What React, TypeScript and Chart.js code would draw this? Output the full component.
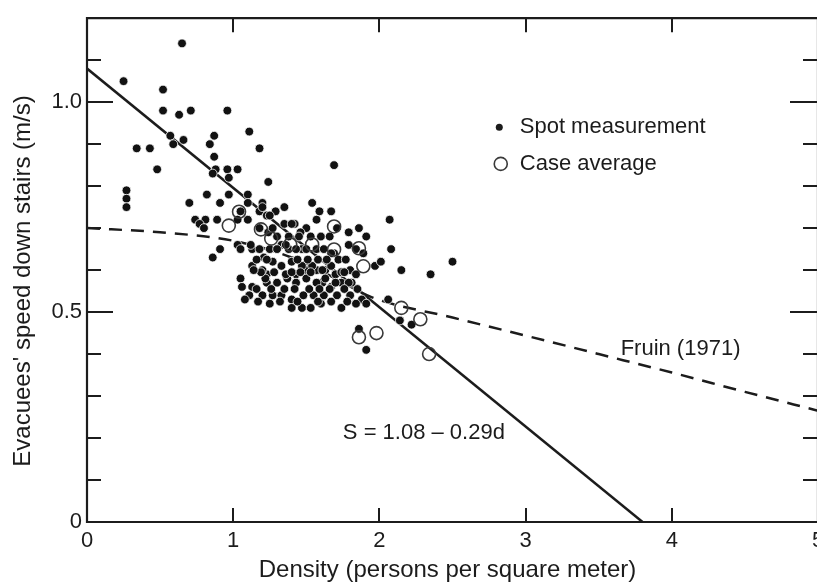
import React, { useEffect, useRef } from "react";
import { Chart, registerables } from "chart.js";

Chart.register(...registerables);

// ---------- data ----------
const xTickValues = [0, 1, 2, 3, 4, 5];
const xInnerTicks = [1, 2, 3, 4];
const yTickValues = [0.1, 0.2, 0.3, 0.4, 0.5, 0.6, 0.7, 0.8, 0.9, 1.0, 1.1];
const yMajorTicks = [0.5, 1.0];
const yLabelValues = [0, 0.5, 1.0];
const yLabelTexts = ["0", "0.5", "1.0"];

const xTitle = "Density (persons per square meter)";
const yTitle = "Evacuees' speed down stairs (m/s)";
const legendSpot = "Spot measurement";
const legendCase = "Case average";
const fruinLabel = "Fruin (1971)";
const fitLabel = "S = 1.08 \u2013 0.29d";

// regression line S = 1.08 - 0.29d
const fitX = [0, 3.8];
const fitY = [1.08, 0];

// Fruin (1971) dashed curve
const fruinX = [0, 0.5, 1.0, 1.4, 1.7, 1.95, 2.5, 3.0, 3.5, 4.0, 4.5, 5.0];
const fruinY = [0.70, 0.69, 0.67, 0.63, 0.58, 0.535, 0.487, 0.444, 0.40, 0.356, 0.31, 0.265];

// case averages (open circles)
const caseX = [0.97, 1.04, 1.19, 1.26, 1.39, 1.54, 1.69, 1.69, 1.86, 1.89, 2.15, 2.28, 1.86, 1.98, 2.34];
const caseY = [0.706, 0.739, 0.697, 0.675, 0.661, 0.661, 0.704, 0.649, 0.652, 0.609, 0.51, 0.483, 0.44, 0.45, 0.40];

// spot measurements (filled dots)
const spotX = [
  0.25, 0.65, 0.52, 0.52, 0.63, 0.71, 0.96, 1.11, 0.57, 0.66, 0.59, 0.84, 0.87, 0.34, 0.43, 1.18, 0.87, 0.48, 0.88, 0.96,
  1.03, 0.86, 0.97, 1.24, 0.27, 0.27, 0.27, 0.82, 0.97, 1.10, 1.69, 0.70, 0.91, 1.10, 1.20, 1.35, 1.54, 1.18, 1.29, 1.59,
  1.67, 1.05, 1.23, 0.74, 0.81, 0.77, 0.80, 0.89, 1.03, 1.10, 1.18, 1.24, 1.35, 1.42, 1.50, 1.57, 1.71, 1.79, 1.86, 1.91,
  2.07, 2.08, 2.15, 2.35, 2.50, 0.91, 0.86, 1.03, 1.05, 1.13, 1.21, 1.33, 1.38, 1.47, 1.57, 1.69, 1.79, 1.84, 1.89, 1.80,
  1.84, 1.97, 2.01, 1.05, 1.06, 1.13, 1.23, 1.23, 1.30, 1.37, 1.43, 1.50, 1.57, 1.63, 1.70, 1.61, 1.67, 1.74, 1.81,
  1.20, 1.25, 1.40, 1.46, 1.27, 1.12, 1.18, 1.25, 1.30, 1.36, 1.43, 1.50, 1.62, 1.67, 1.13, 1.20, 1.27, 1.33, 1.40, 1.47,
  1.54, 1.61, 1.67, 1.22, 1.36, 1.43, 1.50, 1.57, 1.63, 1.70, 1.79, 1.11, 1.20, 1.27, 1.33, 1.40, 1.48, 1.55, 1.62, 1.71,
  1.80, 1.88, 1.25, 1.40, 1.47, 1.53, 1.60, 1.74, 1.84, 1.91, 2.06, 1.86, 1.91, 2.14, 2.22,
  1.30, 1.38, 1.45, 1.53, 1.60, 1.66, 1.16, 1.23, 1.44, 1.51, 1.58, 1.64, 1.72, 1.77, 1.16, 1.26, 1.35, 1.42, 1.52, 1.59,
  1.66, 1.76, 1.85, 1.17, 1.32, 1.44, 1.58, 1.67, 1.78, 1.19, 1.28, 1.40, 1.46, 1.53, 1.74, 1.76, 1.08, 1.14,
];
const spotY = [
  1.05, 1.14, 1.03, 0.98, 0.97, 0.98, 0.98, 0.93, 0.92, 0.91, 0.90, 0.90, 0.92, 0.89, 0.89, 0.89, 0.87, 0.84, 0.84, 0.84,
  0.84, 0.83, 0.82, 0.81, 0.79, 0.77, 0.75, 0.78, 0.78, 0.78, 0.85, 0.76, 0.76, 0.76, 0.76, 0.75, 0.76, 0.74, 0.74, 0.74,
  0.74, 0.74, 0.73, 0.72, 0.72, 0.71, 0.70, 0.72, 0.72, 0.72, 0.70, 0.69, 0.71, 0.71, 0.70, 0.72, 0.70, 0.69, 0.70, 0.68,
  0.72, 0.65, 0.60, 0.59, 0.62, 0.65, 0.63, 0.66, 0.65, 0.65, 0.63, 0.66, 0.65, 0.65, 0.65, 0.64, 0.66, 0.65, 0.64, 0.60,
  0.59, 0.61, 0.62, 0.58, 0.56, 0.56, 0.59, 0.57, 0.57, 0.58, 0.59, 0.60, 0.60, 0.60, 0.59, 0.57, 0.56, 0.57, 0.57,
  0.75, 0.73, 0.71, 0.69, 0.70, 0.66, 0.65, 0.65, 0.65, 0.66, 0.65, 0.65, 0.65, 0.64, 0.61, 0.60, 0.62, 0.61, 0.62, 0.61,
  0.61, 0.60, 0.61, 0.58, 0.59, 0.57, 0.58, 0.57, 0.58, 0.57, 0.57, 0.54, 0.54, 0.54, 0.54, 0.53, 0.54, 0.54, 0.54, 0.54,
  0.54, 0.53, 0.52, 0.51, 0.51, 0.51, 0.52, 0.51, 0.52, 0.52, 0.53, 0.46, 0.41, 0.48, 0.47,
  0.68, 0.68, 0.68, 0.68, 0.68, 0.68, 0.625, 0.625, 0.625, 0.625, 0.625, 0.625, 0.625, 0.625, 0.555, 0.555, 0.555, 0.555, 0.555, 0.555,
  0.555, 0.555, 0.555, 0.525, 0.525, 0.525, 0.525, 0.525, 0.525, 0.595, 0.595, 0.595, 0.595, 0.595, 0.595, 0.595, 0.53, 0.60,
];

// annotation anchors (data coordinates)
const legendSpotAt = [2.82, 0.94];
const legendCaseAt = [2.83, 0.853];
const legendTextX = 2.96;
const fruinLabelAt = [3.65, 0.412];
const fitLabelAt = [1.75, 0.213];

// ---------- style ----------
const INK = "#1c1c1c";
const FONT = "'Liberation Sans', Arial, Helvetica, sans-serif";
const CANVAS_W = 840;
const CANVAS_H = 583;
const PLOT_RIGHT = 818;

const decorPlugin = {
  id: "decor",
  afterDatasetsDraw(chart: any) {
    const { ctx, chartArea: a, scales } = chart;
    const x = scales.x;
    const y = scales.y;
    ctx.save();
    ctx.strokeStyle = INK;
    ctx.lineCap = "butt";
    // frame
    ctx.lineWidth = 2.2;
    ctx.beginPath();
    ctx.moveTo(a.left, a.top);
    ctx.lineTo(a.right, a.top);
    ctx.lineTo(a.right, a.bottom);
    ctx.lineTo(a.left, a.bottom);
    ctx.closePath();
    ctx.stroke();
    // inward y ticks, both sides
    ctx.lineWidth = 2;
    yTickValues.forEach((v) => {
      const py = Math.round(y.getPixelForValue(v));
      const major = yMajorTicks.some((m) => Math.abs(m - v) < 1e-6);
      const lenL = major ? 26 : 14;
      const lenR = major ? 28 : 15;
      ctx.beginPath();
      ctx.moveTo(a.left, py);
      ctx.lineTo(a.left + lenL, py);
      ctx.moveTo(a.right, py);
      ctx.lineTo(a.right - lenR, py);
      ctx.stroke();
    });
    // inward x ticks, top and bottom
    xInnerTicks.forEach((v) => {
      const px = Math.round(x.getPixelForValue(v));
      ctx.beginPath();
      ctx.moveTo(px, a.bottom);
      ctx.lineTo(px, a.bottom - 14);
      ctx.moveTo(px, a.top);
      ctx.lineTo(px, a.top + 14);
      ctx.stroke();
    });

    // legend
    ctx.fillStyle = INK;
    ctx.font = `22px ${FONT}`;
    ctx.textBaseline = "middle";
    ctx.textAlign = "left";
    const sx = x.getPixelForValue(legendSpotAt[0]);
    const sy = y.getPixelForValue(legendSpotAt[1]);
    ctx.beginPath();
    ctx.arc(sx, sy, 3.5, 0, Math.PI * 2);
    ctx.fill();
    ctx.fillText(legendSpot, x.getPixelForValue(legendTextX), sy);
    const cx = x.getPixelForValue(legendCaseAt[0]);
    const cy = y.getPixelForValue(legendCaseAt[1]);
    ctx.lineWidth = 1.6;
    ctx.strokeStyle = "#3a3a3a";
    ctx.beginPath();
    ctx.arc(cx, cy, 6.5, 0, Math.PI * 2);
    ctx.stroke();
    ctx.fillText(legendCase, x.getPixelForValue(legendTextX), cy);

    // line labels
    ctx.fillText(fruinLabel, x.getPixelForValue(fruinLabelAt[0]), y.getPixelForValue(fruinLabelAt[1]));
    ctx.fillText(fitLabel, x.getPixelForValue(fitLabelAt[0]), y.getPixelForValue(fitLabelAt[1]));

    // axis titles
    ctx.font = `24px ${FONT}`;
    ctx.textAlign = "center";
    ctx.fillText(xTitle, (a.left + a.right) / 2 - 5, 570);
    ctx.save();
    ctx.translate(23, 281);
    ctx.rotate(-Math.PI / 2);
    ctx.fillText(yTitle, 0, 0);
    ctx.restore();
    ctx.restore();
  },
};

export default function App() {
  const ref = useRef<HTMLCanvasElement>(null);
  useEffect(() => {
    const canvas = ref.current;
    if (!canvas) return;
    Chart.defaults.font.family = FONT;
    const chart = new Chart(canvas, {
      type: "scatter",
      data: {
        datasets: [
          {
            label: legendCase,
            data: caseX.map((v, i) => ({ x: v, y: caseY[i] })),
            pointRadius: 6.5,
            pointBackgroundColor: "rgba(255,255,255,0)",
            pointBorderColor: "#3a3a3a",
            pointBorderWidth: 1.6,
            order: 0,
          },
          {
            label: legendSpot,
            data: spotX.map((v, i) => ({ x: v, y: spotY[i] })),
            pointRadius: 4.4,
            pointBackgroundColor: "#121212",
            pointBorderColor: "#ffffff",
            pointBorderWidth: 0.8,
            order: 1,
          },
          {
            label: "fit",
            data: fitX.map((v, i) => ({ x: v, y: fitY[i] })),
            showLine: true,
            borderColor: INK,
            borderWidth: 2.5,
            pointRadius: 0,
            order: 2,
          },
          {
            label: "Fruin",
            data: fruinX.map((v, i) => ({ x: v, y: fruinY[i] })),
            showLine: true,
            borderColor: INK,
            borderWidth: 2.5,
            borderDash: [13, 9],
            pointRadius: 0,
            cubicInterpolationMode: "monotone",
            order: 3,
          },
        ],
      },
      options: {
        responsive: false,
        animation: false,
        layout: { padding: { top: 14, right: CANVAS_W - PLOT_RIGHT, left: 0, bottom: 0 } },
        plugins: { legend: { display: false }, tooltip: { enabled: false } },
        scales: {
          x: {
            type: "linear",
            min: 0,
            max: 5,
            afterFit: (s: any) => {
              s.height = 61;
            },
            grid: { display: false, drawTicks: false },
            border: { display: false },
            ticks: {
              stepSize: 1,
              autoSkip: false,
              maxRotation: 0,
              padding: 6,
              color: INK,
              font: { size: 22 },
              callback: (v: any) => {
                const n = Number(v);
                return xTickValues.some((t) => Math.abs(t - n) < 1e-6) ? String(Math.round(n)) : "";
              },
            },
          },
          y: {
            type: "linear",
            min: 0,
            max: 1.2,
            afterFit: (s: any) => {
              s.width = 87;
            },
            grid: { display: false, drawTicks: false },
            border: { display: false },
            ticks: {
              stepSize: 0.1,
              autoSkip: false,
              padding: 5,
              color: INK,
              font: { size: 22 },
              callback: (v: any) => {
                const n = Number(v);
                const i = yLabelValues.findIndex((t) => Math.abs(t - n) < 1e-6);
                return i >= 0 ? yLabelTexts[i] : "";
              },
            },
          },
        },
      },
      plugins: [decorPlugin],
    } as any);
    return () => chart.destroy();
  }, []);

  return (
    <div
      style={{
        position: "fixed",
        left: 0,
        top: 0,
        width: 817,
        height: 583,
        overflow: "hidden",
        background: "#fff",
      }}
    >
      <canvas ref={ref} width={CANVAS_W} height={CANVAS_H} style={{ display: "block" }} />
    </div>
  );
}
